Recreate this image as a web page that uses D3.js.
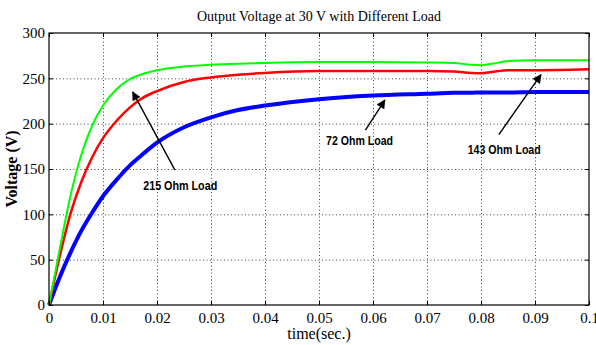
<!DOCTYPE html>
<html>
<head>
<meta charset="utf-8">
<script src="https://cdn.jsdelivr.net/npm/d3@7"></script>
<style>
  body { margin: 0; background: #fff; }
  svg { display: block; }
  .grid line { stroke: #444; stroke-dasharray: 1,2.5; }
  .grid .domain { display: none; }
  .ax .domain { stroke: none; }
  .ax line { stroke: #000; }
  .ax text { font-family: "Liberation Serif", "Times New Roman", serif; font-size: 15px; fill: #000; }
  .note { font-family: "Liberation Sans", Arial, sans-serif; font-weight: bold; font-size: 12.5px; }
</style>
</head>
<body>
<svg id="chart" width="596" height="345"></svg>
<script>
"use strict";

const width = 596
const height = 345
const margin = { top: 33, right: 7, bottom: 40, left: 49 }

// time axis (s)
const time = [0, 0.002, 0.004, 0.006, 0.008, 0.01, 0.0125, 0.015, 0.0175, 0.02, 0.025, 0.03, 0.035,
    0.04, 0.05, 0.06, 0.07, 0.075, 0.078, 0.08, 0.082, 0.085, 0.09, 0.1]

// output voltage (V) for each load
const green_v = [0, 62, 121, 166, 198, 220, 238, 249, 255, 259, 263, 265, 266,
    267, 268, 268, 267.5, 267, 265, 264.5, 266, 269, 270, 270]
const red_v = [0, 54, 101, 136, 163, 184, 203, 218, 229, 236, 246, 251, 254,
    256, 258, 258, 258, 257.5, 256, 255.5, 257, 259, 259, 260]
const blue_v = [0, 31, 58, 82, 102, 120, 138, 154, 167, 179, 196, 207, 215,
    220, 227, 231, 233, 234, 234, 234.5, 234.5, 234.5, 235, 235]

const x_ticks = [0, 0.01, 0.02, 0.03, 0.04, 0.05, 0.06, 0.07, 0.08, 0.09, 0.1]
const y_ticks = [0, 50, 100, 150, 200, 250, 300]

// annotations: label, label position, arrow tail and head in data units
const notes = [
    { text: "215 Ohm Load", len: 74, tx: 0.0243, ty: 130, x1: 0.0233, y1: 149, x2: 0.0155, y2: 235 },
    { text: "72 Ohm Load", len: 67, tx: 0.0575, ty: 180, x1: 0.0586, y1: 193, x2: 0.0622, y2: 226 },
    { text: "143 Ohm Load", len: 73, tx: 0.0843, ty: 170, x1: 0.0833, y1: 188, x2: 0.0911, y2: 254 }
]

const series = [
    { values: blue_v, color: "#0000ff", w: 4 },
    { values: red_v, color: "#ff0000", w: 2.5 },
    { values: green_v, color: "#00ff00", w: 2 }
]

const svg = d3.select("#chart")
const iw = width - margin.left - margin.right
const ih = height - margin.top - margin.bottom

const x = d3.scaleLinear().domain([0, 0.1]).range([margin.left, margin.left + iw])
const y = d3.scaleLinear().domain([0, 300]).range([margin.top + ih, margin.top])

// dotted grid
svg.append("g").attr("class", "grid")
    .attr("transform", `translate(0,${margin.top + ih})`)
    .call(d3.axisBottom(x).tickValues(x_ticks.slice(1, -1)).tickSize(-ih).tickFormat(""))
svg.append("g").attr("class", "grid")
    .attr("transform", `translate(${margin.left},0)`)
    .call(d3.axisLeft(y).tickValues(y_ticks.slice(1, -1)).tickSize(-iw).tickFormat(""))

// curves
const line = d3.line()
    .x((d, i) => x(time[i]))
    .y(d => y(d))
    .curve(d3.curveMonotoneX)

series.forEach(s => {
    svg.append("path")
        .datum(s.values)
        .attr("fill", "none")
        .attr("stroke", s.color)
        .attr("stroke-width", s.w)
        .attr("d", line)
})

// axes with inward ticks on all four sides (matlab style)
const fmt = d => d === 0 ? "0" : d3.format("")(d)
svg.append("g").attr("class", "ax")
    .attr("transform", `translate(0,${margin.top + ih})`)
    .call(d3.axisBottom(x).tickValues(x_ticks).tickSizeInner(-4).tickSizeOuter(0).tickPadding(7).tickFormat(fmt))
svg.append("g").attr("class", "ax")
    .attr("transform", `translate(0,${margin.top})`)
    .call(d3.axisTop(x).tickValues(x_ticks).tickSizeInner(-4).tickSizeOuter(0).tickFormat(""))
svg.append("g").attr("class", "ax")
    .attr("transform", `translate(${margin.left},0)`)
    .call(d3.axisLeft(y).tickValues(y_ticks).tickSizeInner(-4).tickSizeOuter(0).tickPadding(4))
svg.append("g").attr("class", "ax")
    .attr("transform", `translate(${margin.left + iw},0)`)
    .call(d3.axisRight(y).tickValues(y_ticks).tickSizeInner(-4).tickSizeOuter(0).tickFormat(""))

svg.append("rect")
    .attr("x", margin.left).attr("y", margin.top)
    .attr("width", iw).attr("height", ih)
    .attr("fill", "none").attr("stroke", "#000").attr("stroke-width", 1.2)

// arrow head
svg.append("defs").append("marker")
    .attr("id", "head")
    .attr("viewBox", "0 0 10 10")
    .attr("refX", 9).attr("refY", 5)
    .attr("markerWidth", 11).attr("markerHeight", 9)
    .attr("markerUnits", "userSpaceOnUse")
    .attr("orient", "auto")
    .append("path").attr("d", "M0,0 L10,5 L0,10 Z").attr("fill", "#000")

notes.forEach(n => {
    svg.append("line")
        .attr("x1", x(n.x1)).attr("y1", y(n.y1))
        .attr("x2", x(n.x2)).attr("y2", y(n.y2))
        .attr("stroke", "#000").attr("stroke-width", 1.4)
        .attr("marker-end", "url(#head)")
    svg.append("text").attr("class", "note")
        .attr("x", x(n.tx)).attr("y", y(n.ty))
        .attr("text-anchor", "middle")
        .attr("dominant-baseline", "middle")
        .attr("textLength", n.len)
        .attr("lengthAdjust", "spacingAndGlyphs")
        .text(n.text)
})

// title and axis labels
svg.append("text")
    .attr("x", margin.left + iw / 2).attr("y", 21)
    .attr("text-anchor", "middle")
    .style("font-family", "'Liberation Serif', serif").style("font-size", "14px")
    .text("Output Voltage at 30 V with Different Load")

svg.append("text")
    .attr("x", margin.left + iw / 2).attr("y", 339)
    .attr("text-anchor", "middle")
    .style("font-family", "'Liberation Serif', serif").style("font-size", "16px")
    .text("time(sec.)")

svg.append("text")
    .attr("transform", `translate(17,${margin.top + ih / 2}) rotate(-90)`)
    .attr("text-anchor", "middle")
    .style("font-family", "'Liberation Serif', serif").style("font-size", "16px").style("font-weight", "bold")
    .text("Voltage (V)")
</script>
</body>
</html>
